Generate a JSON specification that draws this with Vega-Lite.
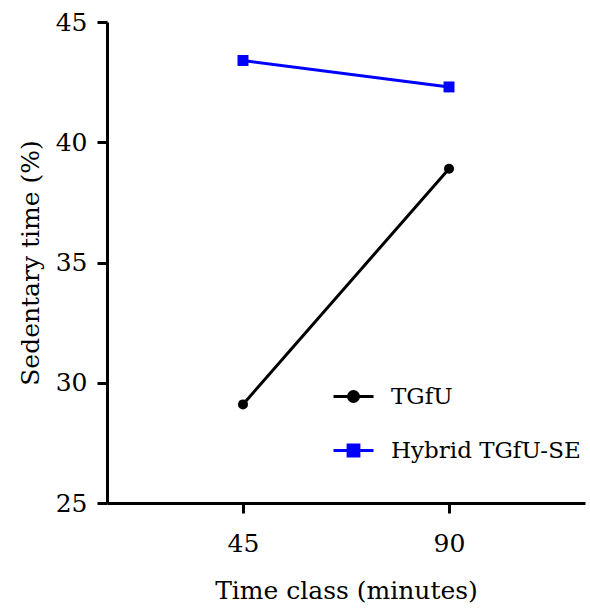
{
  "$schema": "https://vega.github.io/schema/vega-lite/v6.json",
  "autosize": "none",
  "padding": {"left": 107, "top": 22, "right": 5, "bottom": 105},
  "width": 478,
  "height": 481,
  "background": "white",
  "config": {
    "view": {"stroke": null},
    "font": "DejaVu Serif",
    "axis": {
      "domainColor": "black", "domainWidth": 3, "tickColor": "black", "tickWidth": 3, "tickSize": 10,
      "labelFont": "DejaVu Serif", "labelFontSize": 25, "labelColor": "black",
      "titleFont": "DejaVu Serif", "titleFontSize": 25, "titleFontWeight": "normal", "titleColor": "black",
      "grid": false
    }
  },
  "data": {"values": [
    {"series": "TGfU", "time": "45", "value": 29.1},
    {"series": "TGfU", "time": "90", "value": 38.9},
    {"series": "Hybrid TGfU-SE", "time": "45", "value": 43.4},
    {"series": "Hybrid TGfU-SE", "time": "90", "value": 42.3}
  ]},
  "encoding": {
    "x": {"field": "time", "type": "ordinal", "scale": {"type": "point", "padding": 0.66},
      "axis": {"title": "Time class (minutes)", "labelAngle": 0, "labelPadding": 18, "titlePadding": 22}},
    "y": {"field": "value", "type": "quantitative", "scale": {"domain": [25, 45], "nice": false, "zero": false},
      "axis": {"title": "Sedentary time  (%)", "values": [25, 30, 35, 40, 45], "labelPadding": 10, "titlePadding": 12}},
    "color": {"field": "series", "type": "nominal",
      "scale": {"domain": ["TGfU", "Hybrid TGfU-SE"], "range": ["#000000", "#0000ff"]},
      "legend": {
        "title": null, "orient": "none", "legendX": 225, "legendY": 353,
        "symbolSize": 1600, "symbolStrokeWidth": 3, "rowPadding": 20, "labelLimit": 400,
        "labelFont": "DejaVu Serif", "labelFontSize": 23, "labelColor": "black", "labelOffset": 16,
        "encode": {"symbols": {"update": {
          "shape": {"signal": "datum.label === 'TGfU' ? 'M-1,0H1M0.25,0A0.25,0.25,0,1,1,-0.25,0A0.25,0.25,0,1,1,0.25,0Z' : 'M-1,0H1M-0.27,-0.27H0.27V0.27H-0.27Z'"},
          "fill": {"signal": "datum.label === 'TGfU' ? '#000000' : '#0000ff'"},
          "stroke": {"signal": "datum.label === 'TGfU' ? '#000000' : '#0000ff'"},
          "strokeWidth": {"value": 3},
          "size": {"value": 1600}
        }}}
      }}
  },
  "layer": [
    {"mark": {"type": "line", "strokeWidth": 3}},
    {"transform": [{"filter": "datum.series === 'TGfU'"}],
      "mark": {"type": "point", "shape": "circle", "size": 100, "filled": true, "opacity": 1}},
    {"transform": [{"filter": "datum.series === 'Hybrid TGfU-SE'"}],
      "mark": {"type": "point", "shape": "square", "size": 120, "filled": true, "opacity": 1}}
  ]
}
